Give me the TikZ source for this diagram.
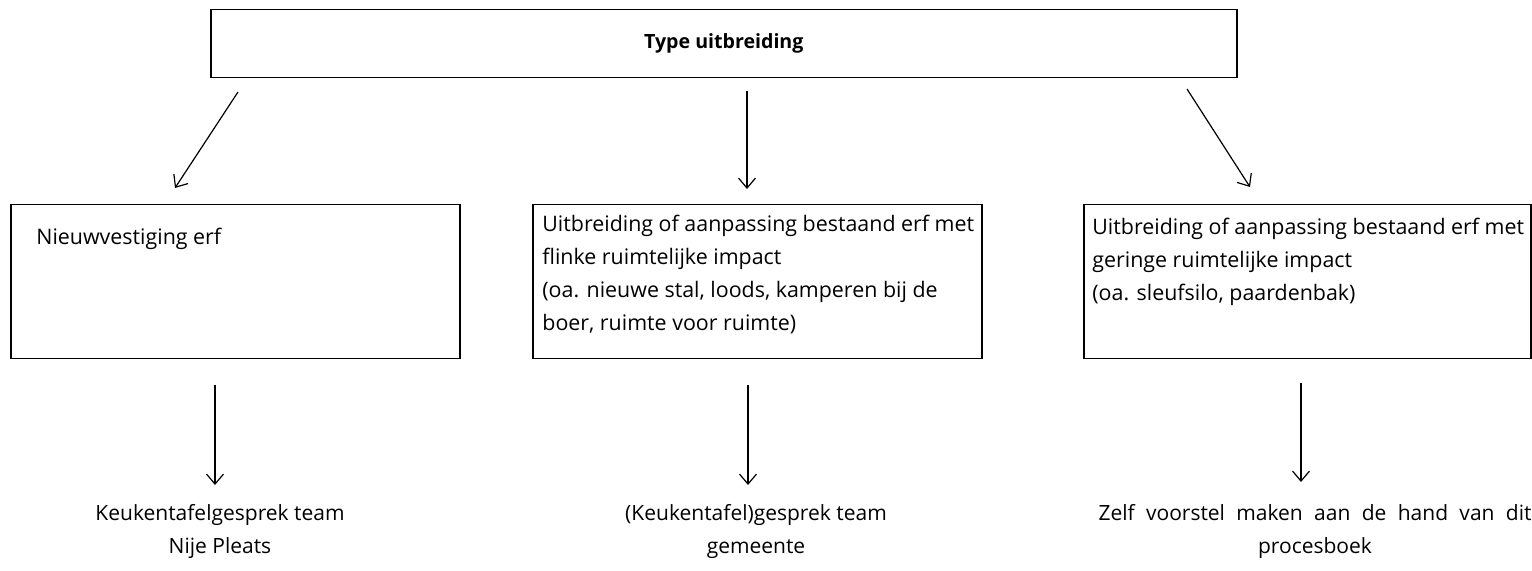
\documentclass[tikz,border=0pt]{standalone}
\usepackage{fontspec}
\setmainfont{Open Sans}
\usetikzlibrary{arrows.meta,positioning}

\tikzset{
  kader/.style={draw, line width=0.75pt, anchor=north west, inner sep=0pt,
    minimum width=224.5pt, minimum height=77pt},
  kadertekst/.style={anchor=north west, align=left, inner sep=0pt,
    font=\fontsize{10.7}{16.5}\selectfont},
  uitkomst/.style={anchor=north, align=center, inner sep=0pt,
    font=\fontsize{10.5}{16.5}\selectfont},
  pijl/.style={line width=0.6pt, -{Straight Barb[length=5pt,width=8.5pt]}}
}

\begin{document}
\begin{tikzpicture}[x=0.5pt, y=-0.5pt]
  \useasboundingbox (0,0) rectangle (1532,571);

  % bovenste kader
  \node[kader, minimum width=513pt, minimum height=34pt,
    font=\bfseries\fontsize{9.8}{12}\selectfont] (type) at (210,9) {Type uitbreiding};

  % drie kaders
  \node[kader] (nieuw) at (10,204) {};
  \node[kader] (flink) at (532,204) {};
  \node[kader, minimum width=223.5pt] (gering) at (1083,204) {};

  \node[kadertekst] (nieuwtekst) at (36,228) {Nieuwvestiging erf};
  \node[kadertekst] (flinktekst) at (542,215) {Uitbreiding of aanpassing bestaand erf met\\
    flinke ruimtelijke impact\\(oa. nieuwe stal, loods, kamperen bij de\\boer, ruimte voor ruimte)};
  \node[kadertekst] (geringtekst) at (1092,218) {Uitbreiding of aanpassing bestaand erf met\\
    geringe ruimtelijke impact\\(oa. sleufsilo, paardenbak)};

  % uitkomsten
  \node[uitkomst] (nijepleats) at (220,504) {Keukentafelgesprek team\\Nije Pleats};
  \node[uitkomst] (gemeente) at (756,504) {(Keukentafel)gesprek team\\gemeente};
  \node[uitkomst] (zelf) at (1315,504)
    {\makebox[216.5pt][s]{Zelf voorstel maken aan de hand van dit}\\procesboek};

  % pijlen
  \coordinate (b1) at (238,92);  \coordinate (e1) at (175,188);
  \coordinate (b2) at (747,91);  \coordinate (e2) at (747,189);
  \coordinate (b3) at (1187,89); \coordinate (e3) at (1250,187);
  \coordinate (b4) at (215,385); \coordinate (e4) at (215,485);
  \coordinate (b5) at (748,385); \coordinate (e5) at (748,485);
  \coordinate (b6) at (1301,383); \coordinate (e6) at (1301,482);
  \foreach \i in {1,...,6}
    \draw[pijl] (b\i) -- (e\i);
\end{tikzpicture}
\end{document}
